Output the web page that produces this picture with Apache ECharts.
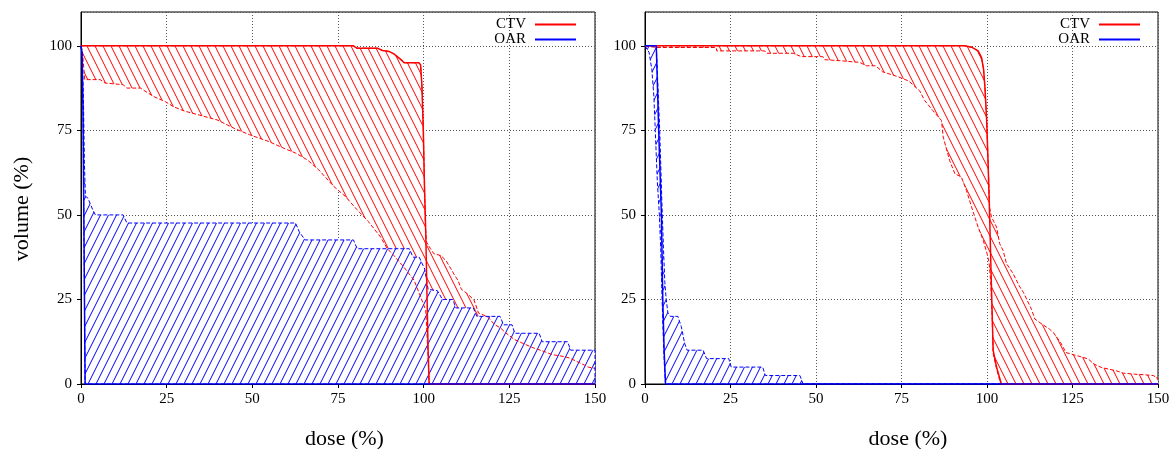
<!DOCTYPE html>
<html>
<head>
<meta charset="utf-8">
<script src="https://cdn.jsdelivr.net/npm/echarts@6/dist/echarts.min.js"></script>
<style>
html,body{margin:0;padding:0;background:#fff;}
#chart{width:1171px;height:449px;}
</style>
</head>
<body>
<div id="chart"></div>
<script>
// ---------- data (dose %, volume %) ----------
const xTicks = [0, 25, 50, 75, 100, 125, 150];
const yTicks = [0, 25, 50, 75, 100];
const structures = ['CTV', 'OAR'];

// Left panel
const L_CTV_nominal = [[0,100],[79.5,100],[80.5,99.3],[86.5,99.3],[88,98.6],[90,98.3],[91.3,97.6],[93.3,96],[94.3,95],[98.6,95],[99.1,94.4],[99.5,88],[99.9,75],[100.2,60],[100.6,45],[101,25],[101.3,10],[101.6,0],[150,0]];
const L_CTV_upper = [[0,100],[79.5,100],[80.5,99.3],[86.5,99.3],[88,98.6],[90,98.3],[91.3,97.6],[93.3,96],[94.3,95],[98.6,95],[99.1,94.4],[99.5,88],[99.9,75],[100.2,60],[100.5,47],[100.8,42],[102,40],[103,38.5],[105,38],[106.5,36.5],[108,34],[109,32.2],[110,30.7],[111,28],[113,26.5],[114.7,24.8],[116,21],[118.6,19.9],[120.7,17.6],[122.5,16.5],[124,15.1],[126.4,13.2],[129,12],[132.2,10.6],[135.2,9.6],[137.5,8.7],[141,8.1],[142.5,7.7],[144.2,6.9],[146.9,5.6],[148,5],[150,4.6]];
const L_CTV_lower = [[0,100],[0.4,98.5],[1.1,90],[5.6,90],[7,89],[12.3,88.5],[13.4,87.5],[17.3,87.5],[21.2,85],[24.6,83.5],[27,82],[30.2,80.7],[34.6,79.5],[39.7,78.1],[44.7,75.6],[49.2,73.7],[54.8,71.7],[59.2,69.7],[62.6,68.3],[66,66.3],[69.3,63.4],[73.8,58.4],[77.1,55.5],[80.5,51.6],[83.8,48.1],[87.4,43.5],[89.4,40],[91.3,38],[94.2,34.6],[97.2,30.7],[99.1,25.8],[100.6,21.8],[101.2,10],[101.6,0],[150,0]];
const L_OAR_nominal = [[0,100],[0.3,98],[0.6,80],[0.9,40],[1.2,0],[150,0]];
const L_OAR_upper = [[0,100],[0.4,97],[0.7,85],[1.0,65],[1.3,55.5],[2,55],[3.4,51.6],[4.2,50],[12.3,50],[13.4,47.6],[62.6,47.6],[63.7,45],[65.4,42.6],[79.5,42.6],[80.6,40],[95.8,40],[96.9,37.5],[98.7,37.5],[100.3,34],[101.3,28],[101.6,27.6],[104,27.6],[105.5,25],[108.5,25],[109.4,22.5],[114.5,22.5],[115.5,20],[122.3,20],[123.3,17.5],[125.8,17.5],[126.6,15],[133.7,15],[134.6,12.5],[142,12.5],[142.9,10],[150,10],[150,0]];
const L_OAR_lower = [[0,100],[0.3,98],[0.6,80],[0.9,40],[1.2,0],[150,0]];

// Right panel
const R_CTV_nominal = [[0,100],[93.5,100],[95.5,99.6],[97.4,98.5],[98.4,96.5],[99,93],[99.4,87.7],[99.9,78],[100.3,66],[100.8,48.4],[101.3,28.7],[101.8,10],[102.8,5],[104.2,0],[150,0]];
const R_CTV_upper = [[0,100],[93.5,100],[95.5,99.6],[97.4,98.5],[98.4,96.5],[99,93],[99.4,87.7],[99.9,78],[100.3,66],[100.8,52],[101.3,49.4],[102,48],[102.8,46.4],[103.7,41.5],[104.7,39.5],[105.7,35.6],[107.6,32.7],[109.6,28.7],[110.7,27],[113,22.1],[114,19.2],[116.1,17.7],[118.3,16.2],[119.4,15.2],[121.5,12.3],[123.1,9.3],[124.8,8.8],[128,7.9],[129.6,7.4],[131.3,5.9],[133.4,4.9],[135.6,4.4],[137.8,3.9],[139.9,3.2],[143.2,2.9],[146.4,2.7],[148.6,2.5],[150,1.7]];
const R_CTV_lower = [[0,100],[3.3,99.5],[20.8,99.5],[21,98.5],[35,98.5],[35.5,97.8],[43.3,97.8],[45.7,96.8],[52,96.8],[52.5,95.9],[57,95.6],[62.8,95.1],[64.7,94.1],[67.4,94.1],[69.5,92.3],[73.9,90.9],[77.1,89.6],[80.3,86.7],[81.8,83.8],[84.2,80.8],[86.7,77.9],[87.2,73],[89.1,66],[90.6,62.2],[92.5,61.2],[94,57.2],[95.5,52.3],[97.4,46.4],[98.9,42.5],[100,38.6],[100.6,36],[101.1,30],[101.5,20],[101.8,9],[102.8,4.5],[104,0],[150,0]];
const R_OAR_nominal = [[0,100],[3.3,100],[4.0,75],[4.8,50],[5.2,25],[5.6,10],[6.0,0],[150,0]];
const R_OAR_upper = [[0,100],[3.3,100],[3.7,90],[4.3,75],[4.9,55],[5.4,40],[5.8,30],[6.2,25],[6.7,21],[7.4,20],[9.6,20],[10.6,17],[11.6,12],[12.3,10],[17,10],[18,7.5],[24.5,7.5],[25.2,5],[34.4,5],[35.2,2.5],[45.3,2.5],[46.2,0],[150,0]];
const R_OAR_lower = [[0,100],[1.2,98],[2.0,93],[2.6,85],[3.0,75],[3.6,60],[4.2,50],[4.6,40],[5.0,25],[5.4,12],[5.7,5],[6.0,0],[150,0]];

// ---------- styling ----------
const FONT = 'Liberation Serif';
const COLORS = { CTV: '#ff0000', OAR: '#0000ff' };

function hatch(color, dir) {
  const w = 8, h = 16;
  const c = document.createElement('canvas');
  c.width = w; c.height = h;
  const g = c.getContext('2d');
  g.fillStyle = '#ffffff';
  g.fillRect(0, 0, w, h);
  g.strokeStyle = color;
  g.lineWidth = 1;
  for (const o of [-w, 0, w]) {
    g.beginPath();
    if (dir === 'back') { g.moveTo(o, 0); g.lineTo(o + w, h); }
    else { g.moveTo(o, h); g.lineTo(o + w, 0); }
    g.stroke();
  }
  return c;
}
const PATTERNS = { CTV: hatch(COLORS.CTV, 'back'), OAR: hatch(COLORS.OAR, 'fwd') };

const panels = [
  { CTV: { nominal: L_CTV_nominal, upper: L_CTV_upper, lower: L_CTV_lower },
    OAR: { nominal: L_OAR_nominal, upper: L_OAR_upper, lower: L_OAR_lower },
    grid: { left: 81, top: 12, width: 514, height: 372 }, legendRight: 595, ylabel: 'volume (%)' },
  { CTV: { nominal: R_CTV_nominal, upper: R_CTV_upper, lower: R_CTV_lower },
    OAR: { nominal: R_OAR_nominal, upper: R_OAR_upper, lower: R_OAR_lower },
    grid: { left: 645, top: 12, width: 513, height: 372 }, legendRight: 31, ylabel: '' }
];

const grids = [], xAxes = [], yAxes = [], series = [], legends = [];
panels.forEach((p, i) => {
  grids.push(Object.assign({ show: true, borderColor: '#000', borderWidth: 1, backgroundColor: '#fff',
    containLabel: false, outerBoundsMode: 'none' }, p.grid));
  xAxes.push({
    gridIndex: i, type: 'value', min: xTicks[0], max: xTicks[xTicks.length - 1], interval: 25,
    name: 'dose (%)', nameLocation: 'middle', nameGap: 44,
    nameTextStyle: { fontFamily: FONT, fontSize: 22, color: '#000', padding: [0, 0, 0, 13] },
    axisLine: { show: true, onZero: false, lineStyle: { color: '#000', width: 1 } },
    axisTick: { show: true, inside: false, length: 4, lineStyle: { color: '#000' } },
    axisLabel: { fontFamily: FONT, fontSize: 15, color: '#000', margin: 8 },
    splitLine: { show: true, lineStyle: { color: '#555', type: [1, 2], width: 1 } }
  });
  yAxes.push({
    gridIndex: i, type: 'value', min: yTicks[0], max: 110, interval: 25,
    name: p.ylabel, nameLocation: 'middle', nameGap: 48, nameRotate: 90,
    nameTextStyle: { fontFamily: FONT, fontSize: 22, color: '#000', padding: [0, 22, 0, 0] },
    axisLine: { show: true, lineStyle: { color: '#000', width: 1 } },
    axisTick: { show: true, inside: false, length: 4, lineStyle: { color: '#000' } },
    axisLabel: { fontFamily: FONT, fontSize: 15, color: '#000', margin: 9, showMaxLabel: false,
      formatter: v => (yTicks.indexOf(v) >= 0 ? String(v) : '') },
    splitLine: { show: true, lineStyle: { color: '#555', type: [1, 2], width: 1 } }
  });
  // hatched bands
  structures.forEach((s, k) => {
    const band = p[s].upper.concat(p[s].lower.slice().reverse());
    series.push({
      type: 'custom', name: s + ' band', xAxisIndex: i, yAxisIndex: i, z: 1 + k,
      silent: true, data: [[0, 0]],
      renderItem: (params, api) => ({
        type: 'polygon',
        shape: { points: band.map(pt => api.coord(pt)) },
        style: { fill: { image: PATTERNS[s], repeat: 'repeat' }, stroke: null }
      })
    });
  });
  // dashed bounds
  structures.forEach((s) => {
    ['upper', 'lower'].forEach(b => {
      series.push({
        type: 'line', name: s + ' ' + b, xAxisIndex: i, yAxisIndex: i, z: 5,
        data: p[s][b], showSymbol: false, symbol: 'none', silent: true,
        lineStyle: { color: COLORS[s], width: 1, type: [4, 2] },
        itemStyle: { color: COLORS[s] }
      });
    });
  });
  // nominal solid
  structures.forEach((s) => {
    series.push({
      type: 'line', name: s, xAxisIndex: i, yAxisIndex: i, z: 6,
      data: p[s].nominal, showSymbol: false, symbol: 'none', silent: true,
      lineStyle: { color: COLORS[s], width: 1.5 },
      itemStyle: { color: COLORS[s] }
    });
  });
  legends.push({
    right: p.legendRight, top: 17, orient: 'vertical', align: 'right', padding: 0,
    itemWidth: 41, itemHeight: 2, itemGap: 0, icon: 'rect', selectedMode: false,
    data: structures,
    textStyle: { fontFamily: FONT, fontSize: 15, color: '#000', lineHeight: 15, padding: [0, 4, 0, 0] }
  });
});

const chart = echarts.init(document.getElementById('chart'), null, { renderer: 'canvas' });
chart.setOption({
  animation: false,
  backgroundColor: '#fff',
  grid: grids, xAxis: xAxes, yAxis: yAxes, series: series, legend: legends
});
</script>
</body>
</html>
